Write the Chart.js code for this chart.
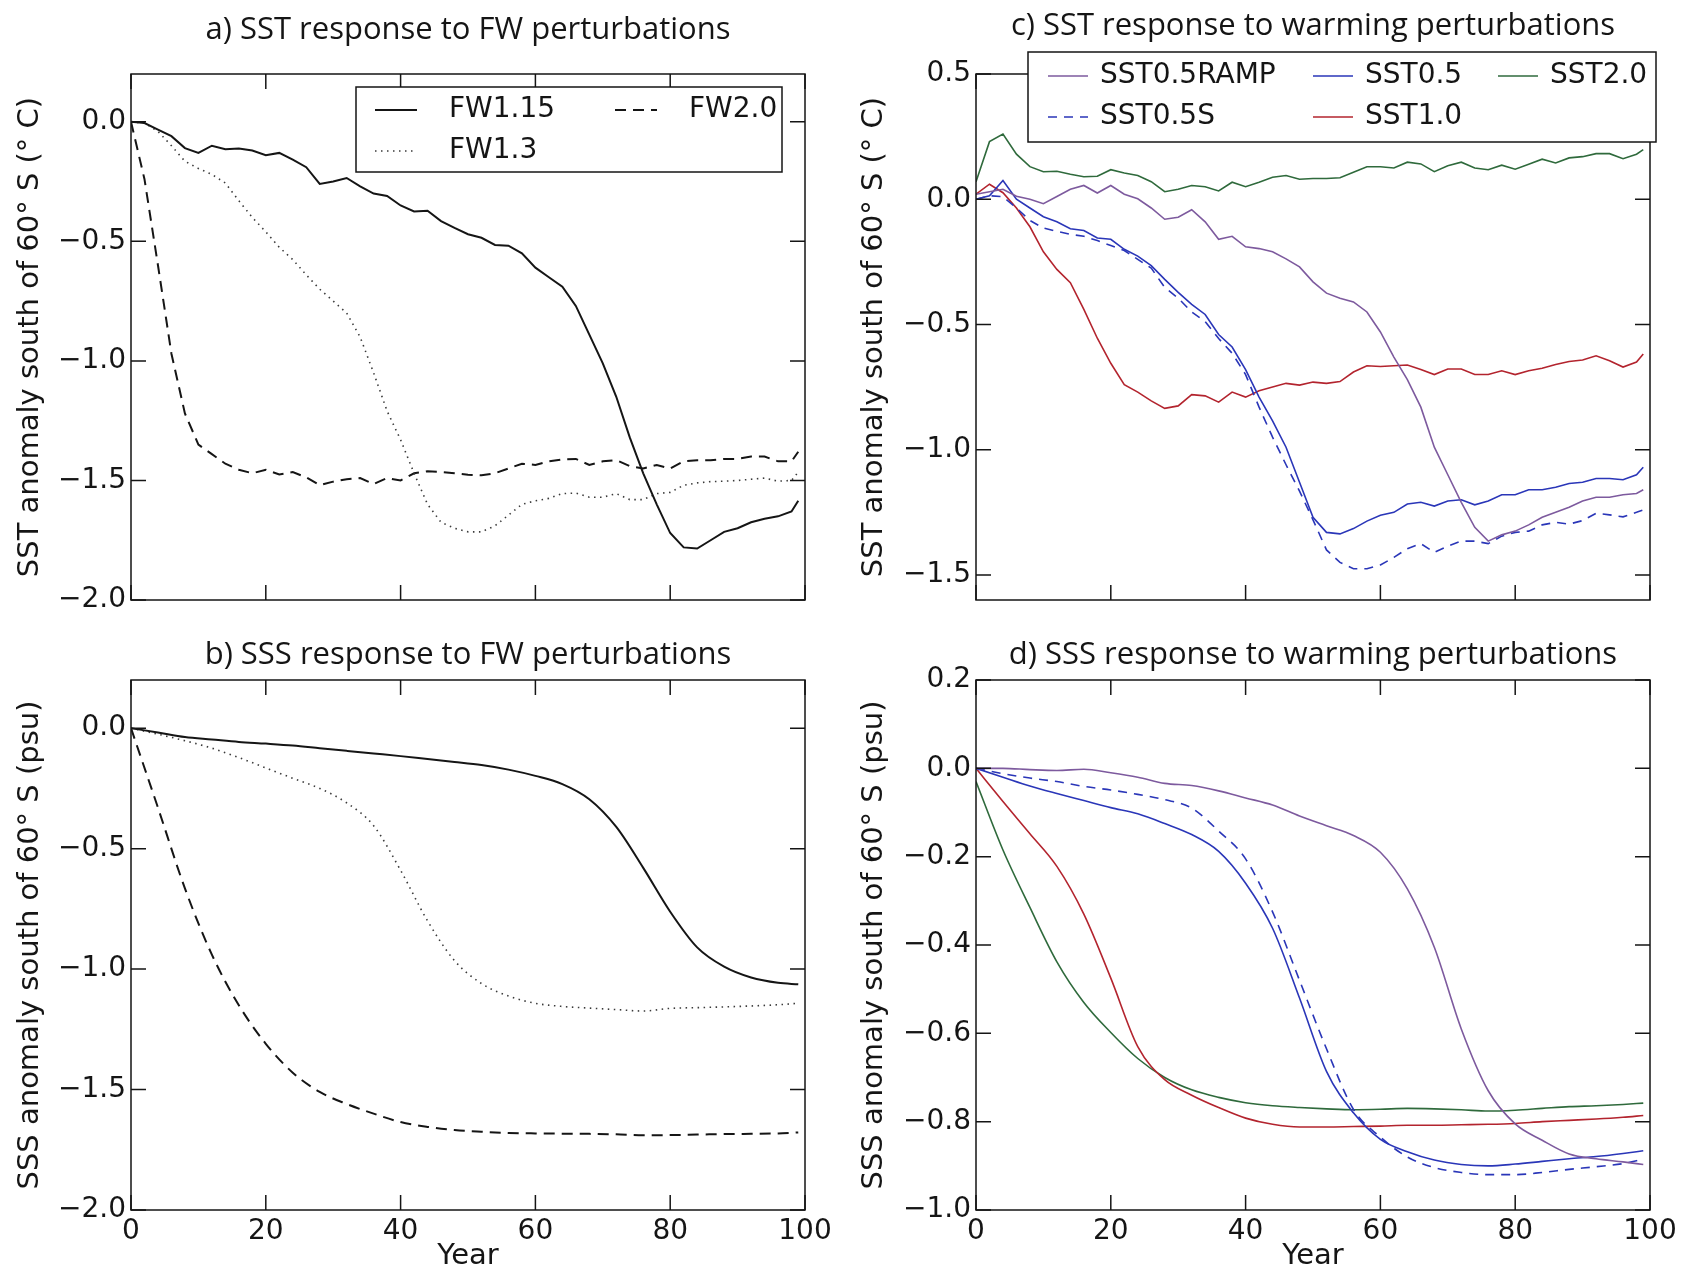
<!DOCTYPE html>
<html>
<head>
<meta charset="utf-8">
<script src="https://cdn.jsdelivr.net/npm/chart.js@4.4.1/dist/chart.umd.min.js"></script>
<style>
  html, body { margin: 0; padding: 0; background: #fff; }
  #fig { position: relative; width: 1688px; height: 1275px; }
  #fig canvas { position: absolute; }
</style>
</head>
<body>
<div id="fig">
  <canvas id="sstFw" width="844" height="640" style="left:0;top:0"></canvas>
  <canvas id="sstWarm" width="844" height="640" style="left:844px;top:0"></canvas>
  <canvas id="sssFw" width="844" height="635" style="left:0;top:640px"></canvas>
  <canvas id="sssWarm" width="844" height="635" style="left:844px;top:640px"></canvas>
</div>
<script>
// yearly SST series, sampled every other year
const yearsSst = [0,2,4,6,8,10,12,14,16,18,20,22,24,26,28,30,32,34,36,38,40,42,44,46,48,50,52,54,56,58,60,62,64,66,68,70,72,74,76,78,80,82,84,86,88,90,92,94,96,98,99]
// SSS series are smooth, every fourth year is enough
const yearsSss = [0,4,8,12,16,20,24,28,32,36,40,44,48,52,56,60,64,68,72,76,80,84,88,92,96,99]
const yearTicks = [0,20,40,60,80,100]

// a) SST, freshwater runs (degC)
const fw115Sst = [0.0,-0.005,-0.033,-0.06,-0.11,-0.13,-0.10,-0.115,-0.112,-0.12,-0.14,-0.13,-0.158,-0.19,-0.26,-0.25,-0.235,-0.27,-0.30,-0.31,-0.35,-0.375,-0.372,-0.415,-0.444,-0.47,-0.485,-0.515,-0.518,-0.55,-0.61,-0.65,-0.69,-0.77,-0.89,-1.01,-1.15,-1.32,-1.47,-1.60,-1.72,-1.78,-1.785,-1.75,-1.715,-1.70,-1.675,-1.66,-1.65,-1.63,-1.585]
const fw13Sst = [0,-0.005,-0.04,-0.10,-0.165,-0.195,-0.22,-0.256,-0.33,-0.40,-0.46,-0.525,-0.576,-0.64,-0.70,-0.75,-0.80,-0.90,-1.05,-1.21,-1.33,-1.47,-1.60,-1.675,-1.70,-1.715,-1.715,-1.69,-1.645,-1.60,-1.585,-1.575,-1.555,-1.553,-1.57,-1.57,-1.555,-1.58,-1.58,-1.555,-1.55,-1.52,-1.51,-1.505,-1.503,-1.50,-1.495,-1.49,-1.503,-1.50,-1.465]
const fw20Sst = [0,-0.24,-0.60,-0.97,-1.22,-1.35,-1.39,-1.43,-1.455,-1.47,-1.455,-1.475,-1.465,-1.487,-1.52,-1.505,-1.495,-1.49,-1.515,-1.49,-1.50,-1.47,-1.462,-1.465,-1.47,-1.476,-1.478,-1.47,-1.45,-1.43,-1.435,-1.42,-1.412,-1.41,-1.435,-1.42,-1.415,-1.44,-1.45,-1.435,-1.45,-1.42,-1.415,-1.415,-1.41,-1.41,-1.40,-1.40,-1.42,-1.42,-1.38]

// c) SST, warming runs (degC)
const ramp05Sst = [0.02,0.03,0.04,0.012,0.0,-0.018,0.011,0.04,0.055,0.025,0.055,0.02,0.002,-0.035,-0.08,-0.072,-0.042,-0.09,-0.16,-0.148,-0.19,-0.197,-0.21,-0.238,-0.27,-0.33,-0.375,-0.395,-0.41,-0.45,-0.53,-0.63,-0.72,-0.83,-0.99,-1.10,-1.21,-1.31,-1.365,-1.34,-1.325,-1.30,-1.27,-1.25,-1.23,-1.205,-1.19,-1.19,-1.18,-1.175,-1.16]
const sst05sSst = [0.0,0.014,0.01,-0.035,-0.085,-0.115,-0.128,-0.14,-0.148,-0.165,-0.185,-0.205,-0.24,-0.275,-0.352,-0.395,-0.45,-0.488,-0.556,-0.615,-0.70,-0.83,-0.95,-1.06,-1.165,-1.28,-1.40,-1.45,-1.475,-1.475,-1.46,-1.43,-1.395,-1.375,-1.41,-1.385,-1.365,-1.365,-1.375,-1.345,-1.33,-1.325,-1.30,-1.29,-1.297,-1.283,-1.254,-1.26,-1.268,-1.25,-1.24]
const sst05Sst = [0.0,0.014,0.075,0.0,-0.035,-0.07,-0.09,-0.118,-0.125,-0.155,-0.16,-0.20,-0.227,-0.265,-0.32,-0.372,-0.42,-0.46,-0.54,-0.59,-0.68,-0.79,-0.885,-0.99,-1.13,-1.27,-1.33,-1.336,-1.315,-1.285,-1.262,-1.25,-1.217,-1.21,-1.225,-1.205,-1.20,-1.22,-1.205,-1.18,-1.18,-1.16,-1.16,-1.15,-1.135,-1.13,-1.115,-1.115,-1.12,-1.10,-1.07]
const sst10Sst = [0.02,0.06,0.026,-0.035,-0.11,-0.21,-0.28,-0.333,-0.44,-0.555,-0.655,-0.74,-0.77,-0.805,-0.835,-0.825,-0.78,-0.785,-0.81,-0.77,-0.79,-0.765,-0.75,-0.735,-0.742,-0.73,-0.735,-0.728,-0.69,-0.665,-0.668,-0.665,-0.662,-0.68,-0.70,-0.678,-0.678,-0.70,-0.70,-0.685,-0.70,-0.685,-0.675,-0.66,-0.648,-0.642,-0.625,-0.645,-0.67,-0.65,-0.618]
const sst20Sst = [0.07,0.23,0.26,0.18,0.13,0.11,0.112,0.10,0.09,0.092,0.118,0.105,0.095,0.07,0.03,0.04,0.055,0.05,0.033,0.068,0.05,0.068,0.088,0.095,0.08,0.083,0.083,0.086,0.108,0.13,0.13,0.125,0.148,0.141,0.11,0.134,0.148,0.125,0.118,0.136,0.12,0.14,0.16,0.145,0.165,0.17,0.182,0.182,0.162,0.18,0.198]

// b) SSS, freshwater runs (psu)
const fw115Sss = [0,-0.018,-0.037,-0.047,-0.057,-0.064,-0.072,-0.083,-0.094,-0.105,-0.116,-0.128,-0.14,-0.153,-0.172,-0.198,-0.232,-0.295,-0.41,-0.58,-0.762,-0.91,-0.99,-1.035,-1.057,-1.063]
const fw13Sss = [0,-0.025,-0.052,-0.083,-0.122,-0.165,-0.208,-0.25,-0.31,-0.405,-0.59,-0.80,-0.965,-1.06,-1.112,-1.142,-1.155,-1.162,-1.168,-1.174,-1.163,-1.16,-1.157,-1.153,-1.148,-1.142]
const fw20Sss = [0,-0.33,-0.665,-0.94,-1.15,-1.31,-1.43,-1.51,-1.56,-1.60,-1.635,-1.655,-1.668,-1.675,-1.68,-1.682,-1.683,-1.684,-1.686,-1.69,-1.689,-1.687,-1.685,-1.684,-1.682,-1.678]

// d) SSS, warming runs (psu)
const ramp05Sss = [0,0,-0.003,-0.005,-0.002,-0.01,-0.02,-0.034,-0.039,-0.051,-0.067,-0.083,-0.108,-0.13,-0.152,-0.19,-0.273,-0.405,-0.59,-0.73,-0.805,-0.842,-0.873,-0.884,-0.891,-0.897]
const sst05sSss = [0,-0.012,-0.022,-0.03,-0.041,-0.049,-0.059,-0.071,-0.09,-0.142,-0.205,-0.325,-0.48,-0.635,-0.772,-0.835,-0.88,-0.904,-0.915,-0.92,-0.92,-0.915,-0.908,-0.902,-0.895,-0.885]
const sst05Sss = [0,-0.02,-0.04,-0.057,-0.073,-0.089,-0.103,-0.125,-0.15,-0.188,-0.26,-0.362,-0.52,-0.686,-0.78,-0.84,-0.868,-0.887,-0.897,-0.90,-0.896,-0.89,-0.884,-0.879,-0.872,-0.866]
const sst10Sss = [0,-0.075,-0.148,-0.222,-0.33,-0.475,-0.63,-0.705,-0.74,-0.768,-0.792,-0.806,-0.812,-0.812,-0.811,-0.81,-0.808,-0.808,-0.807,-0.806,-0.804,-0.80,-0.797,-0.794,-0.79,-0.786]
const sst20Sss = [-0.03,-0.185,-0.315,-0.438,-0.53,-0.598,-0.657,-0.70,-0.728,-0.745,-0.757,-0.764,-0.768,-0.771,-0.773,-0.772,-0.77,-0.771,-0.773,-0.776,-0.774,-0.77,-0.766,-0.764,-0.761,-0.758]

const ink = "#151515"
const purple = "#7d5a9e"
const blue = "#2a36b8"
const red = "#b3242e"
const green = "#2f6a3c"

Chart.defaults.font.family = "'DejaVu Sans'"
Chart.defaults.font.size = 28
Chart.defaults.color = ink

// closed frame with inward ticks on every side
const boxAxes = {
  id: "boxAxes",
  afterDatasetsDraw(chart) {
    const { ctx, chartArea: a, scales: { x, y } } = chart
    const len = 15
    ctx.save()
    ctx.strokeStyle = ink
    ctx.lineWidth = 1.5
    ctx.beginPath()
    yearTicks.forEach(v => {
      const px = x.getPixelForValue(v)
      ctx.moveTo(px, a.bottom); ctx.lineTo(px, a.bottom - len)
      ctx.moveTo(px, a.top); ctx.lineTo(px, a.top + len)
    })
    y.ticks.forEach(t => {
      const py = y.getPixelForValue(t.value)
      ctx.moveTo(a.left, py); ctx.lineTo(a.left + len, py)
      ctx.moveTo(a.right, py); ctx.lineTo(a.right - len, py)
    })
    ctx.stroke()
    ctx.strokeRect(a.left, a.top, a.right - a.left, a.bottom - a.top)
    ctx.restore()
  }
}

// panel title, rotated y title and optional x title
const panelText = {
  id: "panelText",
  afterDraw(chart, args, o) {
    const { ctx, chartArea: a } = chart
    const cx = (a.left + a.right) / 2
    const cy = (a.top + a.bottom) / 2
    ctx.save()
    ctx.fillStyle = ink
    ctx.textAlign = "center"
    ctx.textBaseline = "alphabetic"
    ctx.font = "31px 'Open Sans'"
    ctx.fillText(o.title, cx, o.titleY)
    ctx.font = "29px 'DejaVu Sans'"
    ctx.textBaseline = "middle"
    if (o.xTitle) ctx.fillText(o.xTitle, cx, o.xTitleY)
    ctx.translate(o.yTitleX, cy)
    ctx.rotate(-Math.PI / 2)
    ctx.fillText(o.yTitle, 0, 0)
    ctx.restore()
  }
}

// boxed legend, filled column by column
const boxLegend = {
  id: "boxLegend",
  afterDraw(chart, args, o) {
    if (!o.box) return
    const { ctx } = chart
    const [bx, by, bw, bh] = o.box
    ctx.save()
    ctx.fillStyle = "#fff"
    ctx.fillRect(bx, by, bw, bh)
    ctx.strokeStyle = ink
    ctx.lineWidth = 1.5
    ctx.strokeRect(bx, by, bw, bh)
    ctx.font = "28px 'DejaVu Sans'"
    ctx.textBaseline = "middle"
    ctx.textAlign = "left"
    const nRows = o.rows.length
    chart.data.datasets.forEach((ds, i) => {
      const x0 = o.cols[Math.floor(i / nRows)]
      const yy = o.rows[i % nRows]
      ctx.strokeStyle = ds.borderColor
      ctx.lineWidth = ds.borderWidth
      ctx.setLineDash(ds.borderDash || [])
      ctx.beginPath()
      ctx.moveTo(x0, yy)
      ctx.lineTo(x0 + o.handle, yy)
      ctx.stroke()
      ctx.setLineDash([])
      ctx.fillStyle = ink
      ctx.fillText(ds.label, x0 + o.handle + o.gap, yy)
    })
    ctx.restore()
  }
}

const tickLabel = v => (Math.abs(v) < 1e-9 ? "0.0" : v.toFixed(1)).replace("-", "\u2212")

function makePanel(id, p) {
  return new Chart(document.getElementById(id), {
    type: "line",
    data: {
      datasets: p.series.map(s => ({
        label: s.label,
        data: p.years.map((yr, i) => ({ x: yr, y: s.values[i] })),
        borderColor: s.color,
        borderWidth: s.width,
        borderDash: s.dash || [],
        pointRadius: 0,
        fill: false,
        tension: 0,
        cubicInterpolationMode: p.smooth ? "monotone" : "default"
      }))
    },
    plugins: [boxAxes, panelText, boxLegend],
    options: {
      responsive: false,
      animation: false,
      events: [],
      layout: { padding: { top: p.padTop, right: p.padRight, left: 0, bottom: 0 } },
      plugins: {
        legend: { display: false },
        tooltip: { enabled: false },
        panelText: p.text,
        boxLegend: p.legend || {}
      },
      scales: {
        x: {
          type: "linear",
          min: 0,
          max: 100,
          grid: { display: false, drawTicks: false },
          border: { display: false },
          ticks: { display: p.showYears, stepSize: 20, padding: 5, maxRotation: 0, autoSkip: false, font: { size: 28 } },
          afterFit: s => { s.height = p.xAxisH }
        },
        y: {
          min: p.yMin,
          max: p.yMax,
          grid: { display: false, drawTicks: false },
          border: { display: false },
          ticks: { stepSize: p.yStep, includeBounds: false, padding: 5, font: { size: 28 }, callback: tickLabel },
          afterFit: s => { s.width = p.yAxisW }
        }
      }
    }
  })
}

const fwLines = (a, b, c) => [
  { label: "FW1.15", values: a, color: ink, width: 2 },
  { label: "FW1.3", values: b, color: "#3a3a3a", width: 1.6, dash: [1.5, 4.5] },
  { label: "FW2.0", values: c, color: ink, width: 2, dash: [11, 7] }
]
const warmLines = (ramp, s05s, s05, s10, s20) => [
  { label: "SST0.5RAMP", values: ramp, color: purple, width: 1.6 },
  { label: "SST0.5S", values: s05s, color: blue, width: 1.6, dash: [9, 7] },
  { label: "SST0.5", values: s05, color: blue, width: 1.6 },
  { label: "SST1.0", values: s10, color: red, width: 1.6 },
  { label: "SST2.0", values: s20, color: green, width: 1.6 }
]

makePanel("sstFw", {
  years: yearsSst, smooth: false,
  series: fwLines(fw115Sst, fw13Sst, fw20Sst),
  yMin: -2.0, yMax: 0.2, yStep: 0.5,
  padTop: 74, padRight: 39, yAxisW: 131, xAxisH: 40, showYears: false,
  text: { title: "a) SST response to FW perturbations", titleY: 39, yTitle: "SST anomaly south of 60° S (° C)", yTitleX: 30 },
  legend: { box: [356, 87, 426, 85], cols: [375, 615], rows: [110, 151], handle: 42, gap: 32 }
})

makePanel("sstWarm", {
  years: yearsSst, smooth: false,
  series: warmLines(ramp05Sst, sst05sSst, sst05Sst, sst10Sst, sst20Sst),
  yMin: -1.6, yMax: 0.5, yStep: 0.5,
  padTop: 74, padRight: 38, yAxisW: 132, xAxisH: 40, showYears: false,
  text: { title: "c) SST response to warming perturbations", titleY: 35, yTitle: "SST anomaly south of 60° S (° C)", yTitleX: 30 },
  legend: { box: [184, 52, 628, 90], cols: [204, 469, 654], rows: [76, 117], handle: 40, gap: 12 }
})

makePanel("sssFw", {
  years: yearsSss, smooth: true,
  series: fwLines(fw115Sss, fw13Sss, fw20Sss),
  yMin: -2.0, yMax: 0.2, yStep: 0.5,
  padTop: 40, padRight: 39, yAxisW: 131, xAxisH: 65, showYears: true,
  text: { title: "b) SSS response to FW perturbations", titleY: 24, yTitle: "SSS anomaly south of 60° S (psu)", yTitleX: 30, xTitle: "Year", xTitleY: 616 }
})

makePanel("sssWarm", {
  years: yearsSss, smooth: true,
  series: warmLines(ramp05Sss, sst05sSss, sst05Sss, sst10Sss, sst20Sss),
  yMin: -1.0, yMax: 0.2, yStep: 0.2,
  padTop: 40, padRight: 38, yAxisW: 132, xAxisH: 65, showYears: true,
  text: { title: "d) SSS response to warming perturbations", titleY: 24, yTitle: "SSS anomaly south of 60° S (psu)", yTitleX: 30, xTitle: "Year", xTitleY: 616 }
})
</script>
</body>
</html>
